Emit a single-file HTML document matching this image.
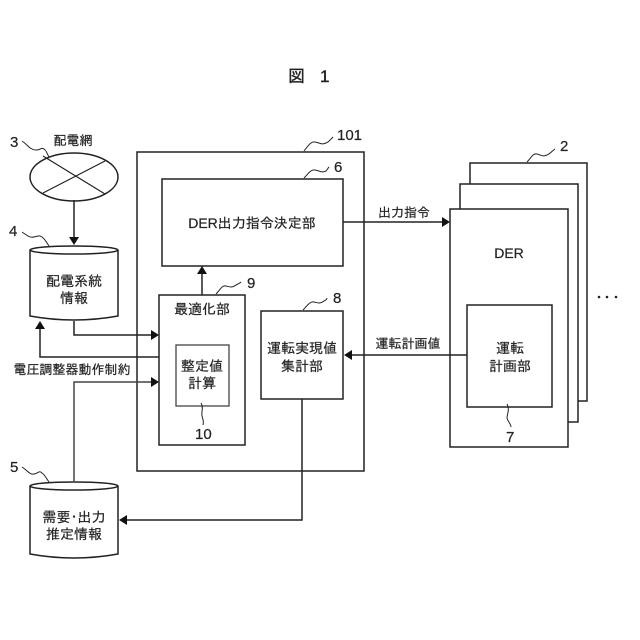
<!DOCTYPE html>
<html><head><meta charset="utf-8">
<style>
html,body{margin:0;padding:0;background:#fff;width:640px;height:640px;overflow:hidden}
svg{display:block}
text{font-family:"Liberation Sans","IPAGothic","Noto Sans CJK JP",sans-serif;fill:#222;stroke:#222;stroke-width:.2;font-size:14px}
.n{font-size:15px}
.b{fill:#fff;stroke:#222;stroke-width:1.5}
.l{fill:none;stroke:#222;stroke-width:1.5}
.s{fill:none;stroke:#222;stroke-width:1}
.a{fill:#111;stroke:none}
</style></head><body>
<svg width="640" height="640" viewBox="0 0 640 640" xmlns="http://www.w3.org/2000/svg">
<text x="288" y="82" style="font-size:17px;stroke-width:.4">図</text>
<text x="320" y="82" style="font-size:17px;stroke-width:.4">1</text>

<!-- DER stack -->
<rect class="b" x="470" y="163" width="117" height="238"/>
<rect class="b" x="460" y="184" width="118" height="238"/>
<rect class="b" x="450" y="209" width="118" height="238"/>
<rect class="b" x="467" y="305" width="85" height="102"/>

<!-- main box -->
<rect class="b" x="137" y="152" width="227" height="319"/>
<rect class="b" x="162" y="179" width="181" height="87"/>
<rect class="b" x="159" y="295" width="86" height="150"/>
<rect x="176" y="345" width="53" height="61" fill="#fff" stroke="#444" stroke-width="1.3"/>
<rect class="b" x="261" y="311" width="82" height="88"/>

<!-- network ellipse -->
<ellipse class="b" cx="74" cy="177" rx="44" ry="24"/>
<path class="s" d="M43 156L105 194M43 193L105 161" style="stroke-width:1.2"/>

<!-- cylinders -->
<path class="b" d="M30 250V316Q74 324 118 316V250"/>
<ellipse class="b" cx="74" cy="250" rx="44" ry="4"/>
<path class="b" d="M30 486V554Q74 562 118 554V486"/>
<ellipse class="b" cx="74" cy="486" rx="44" ry="4"/>

<!-- connectors -->
<path class="l" d="M74 200V238"/>
<path class="a" d="M69 237H79L74 245Z"/>
<path class="l" d="M74 321V335H152"/>
<path class="a" d="M151 330L159 335L151 340Z"/>
<path class="l" d="M159 357H40V328"/>
<path class="a" d="M35 329L40 321L45 329Z"/>
<path class="l" d="M74 482V382H152" style="stroke:#444"/>
<path class="a" d="M151 377L159 382L151 387Z"/>
<path class="l" d="M202 295V273"/>
<path class="a" d="M197 274L202 266L207 274Z"/>
<path class="l" d="M343 222H444"/>
<path class="a" d="M442 217L450 222L442 227Z"/>
<path class="l" d="M467 355H351"/>
<path class="a" d="M352 350L344 355L352 360Z"/>
<path class="l" d="M302 399V520H127"/>
<path class="a" d="M127 515L119 520L127 525Z"/>

<!-- squiggles -->
<path class="s" d="M22 141C28 145 30 150 36 150C42 150 40 147 44 149C47 151 46 152 49 157"/>
<path class="s" d="M22 232C28 236 30 238 34 237C39 236 39 235 42 237C46 240 46 242 49 246"/>
<path class="s" d="M22 467C28 471 30 475 34 474C39 473 39 470 42 473C45 475 46 478 49 482"/>
<path class="s" d="M304 151C308 146 311 141 315 142C320 143 322 145 326 143C329 142 331 139 333 137"/>
<path class="s" d="M304 178C308 174 311 169 315 170C320 171 322 173 326 171C327 170 328 168 329 167"/>
<path class="s" d="M216 294C220 290 222 285 226 286C230 287 232 288 236 285C238 284 240 283 241 282"/>
<path class="s" d="M303 310C307 306 310 301 314 302C318 303 320 304 324 301C326 300 327 299 327 298"/>
<path class="s" d="M527 162C531 158 533 153 537 154C541 155 543 157 547 155C550 154 552 151 555 149"/>
<path class="s" d="M201 403C204 408 201 412 202 416C203 420 204 421 203 425"/>
<path class="s" d="M507 404C510 410 507 414 507 418C508 422 511 424 511 427"/>

<!-- numbers -->
<text class="n" x="10" y="147">3</text>
<text class="n" x="9" y="236">4</text>
<text class="n" x="10" y="472">5</text>
<text class="n" x="337" y="140">101</text>
<text class="n" x="334" y="172">6</text>
<text class="n" x="247" y="288">9</text>
<text class="n" x="333" y="303">8</text>
<text class="n" x="560" y="151">2</text>
<text class="n" x="195" y="439">10</text>
<text class="n" x="506" y="442">7</text>

<!-- labels -->
<text x="73" y="145" text-anchor="middle" style="font-size:13px">配電網</text>
<text x="74" y="286" text-anchor="middle">配電系統</text>
<text x="74" y="303" text-anchor="middle">情報</text>
<text x="72" y="374" text-anchor="middle" style="font-size:13px">電圧調整器動作制約</text>
<text x="74" y="522" text-anchor="middle">需要･出力</text>
<text x="74" y="539" text-anchor="middle">推定情報</text>
<text x="252" y="228" text-anchor="middle">DER出力指令決定部</text>
<text x="202" y="314" text-anchor="middle">最適化部</text>
<text x="202" y="371" text-anchor="middle">整定値</text>
<text x="202" y="388" text-anchor="middle">計算</text>
<text x="302" y="353" text-anchor="middle">運転実現値</text>
<text x="302" y="371" text-anchor="middle">集計部</text>
<text x="404" y="217" text-anchor="middle" style="font-size:13px">出力指令</text>
<text x="408" y="348" text-anchor="middle" style="font-size:13px">運転計画値</text>
<text x="509" y="258" text-anchor="middle">DER</text>
<text x="510" y="353" text-anchor="middle">運転</text>
<text x="510" y="371" text-anchor="middle">計画部</text>

<circle cx="599" cy="297" r="1.3" fill="#222"/>
<circle cx="607" cy="297" r="1.3" fill="#222"/>
<circle cx="616" cy="297" r="1.3" fill="#222"/>
</svg>
</body></html>
